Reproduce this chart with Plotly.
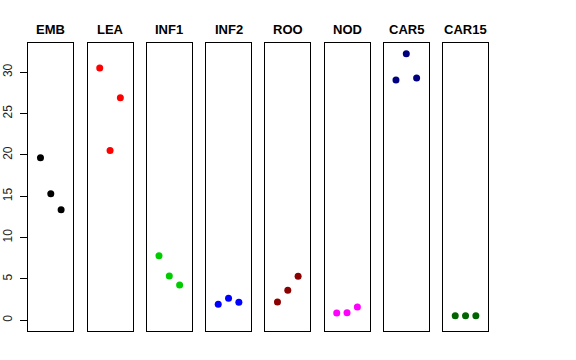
import plotly.graph_objects as go

categories = ["EMB", "LEA", "INF1", "INF2", "ROO", "NOD", "CAR5", "CAR15"]
x_index = [1, 2, 3]
emb = [19.66, 15.3, 13.37]
lea = [30.5, 20.55, 26.9]
inf1 = [7.81, 5.36, 4.27]
inf2 = [1.93, 2.66, 2.18]
roo = [2.21, 3.63, 5.32]
nod = [0.88, 0.92, 1.61]
car5 = [29.06, 32.24, 29.3]
car15 = [0.56, 0.56, 0.56]
series = [emb, lea, inf1, inf2, roo, nod, car5, car15]
colors = ["#000000", "#FF0000", "#00CD00", "#0000FF", "#8B0000", "#FF00FF", "#000080", "#006400"]
y_ticks = [0, 5, 10, 15, 20, 25, 30]

W, H = 576, 360
fig = go.Figure()
left0, stride, pw = 28.3, 59.25, 45.0
top_px, bot_px = 42.7, 331.0
ydom = [(H - bot_px) / H, (H - top_px) / H]

layout = dict(width=W, height=H, autosize=False, margin=dict(l=0, r=0, t=0, b=0, autoexpand=False),
              plot_bgcolor="white", paper_bgcolor="white", showlegend=False,
              font=dict(family="Liberation Sans, Arial, sans-serif", color="black"))
annotations = []
for i, (cat, vals, col) in enumerate(zip(categories, series, colors)):
    n = i + 1
    xa = "x" if n == 1 else f"x{n}"
    ya = "y" if n == 1 else f"y{n}"
    fig.add_trace(go.Scatter(x=x_index, y=vals, mode="markers", xaxis=xa, yaxis=ya,
                             marker=dict(color=col, size=7, line=dict(width=0)),
                             hoverinfo="skip"))
    l = left0 + stride * i
    layout[f"xaxis{n}"] = dict(domain=[l / W, (l + pw) / W], range=[-0.18, 4.18],
                               showline=True, mirror=True, linecolor="black", linewidth=1,
                               showgrid=False, zeroline=False, showticklabels=False,
                               ticks="", anchor=ya, fixedrange=True, automargin=False)
    yd = dict(domain=ydom, range=[-1.29, 33.57], showline=True, mirror=True,
              linecolor="black", linewidth=1, showgrid=False, zeroline=False,
              anchor=xa, fixedrange=True, automargin=False)
    if n == 1:
        yd.update(tickvals=y_ticks, ticktext=[str(t) for t in y_ticks], ticks="outside",
                  ticklen=7, tickcolor="black", tickangle=-90, ticklabelstandoff=4,
                  tickfont=dict(size=12, color="#222"))
    else:
        yd.update(showticklabels=False, ticks="")
    layout[f"yaxis{n}"] = yd
    annotations.append(dict(text=f"<b>{cat}</b>", x=(l + pw / 2) / W, y=(H - 29.3) / H,
                            xref="paper", yref="paper", xanchor="center", yanchor="middle",
                            showarrow=False, font=dict(size=13, color="black")))
layout["annotations"] = annotations
fig.update_layout(**layout)
fig.write_html("out.html", config={"displayModeBar": False},
               post_script="document.body.style.margin='0px';")
